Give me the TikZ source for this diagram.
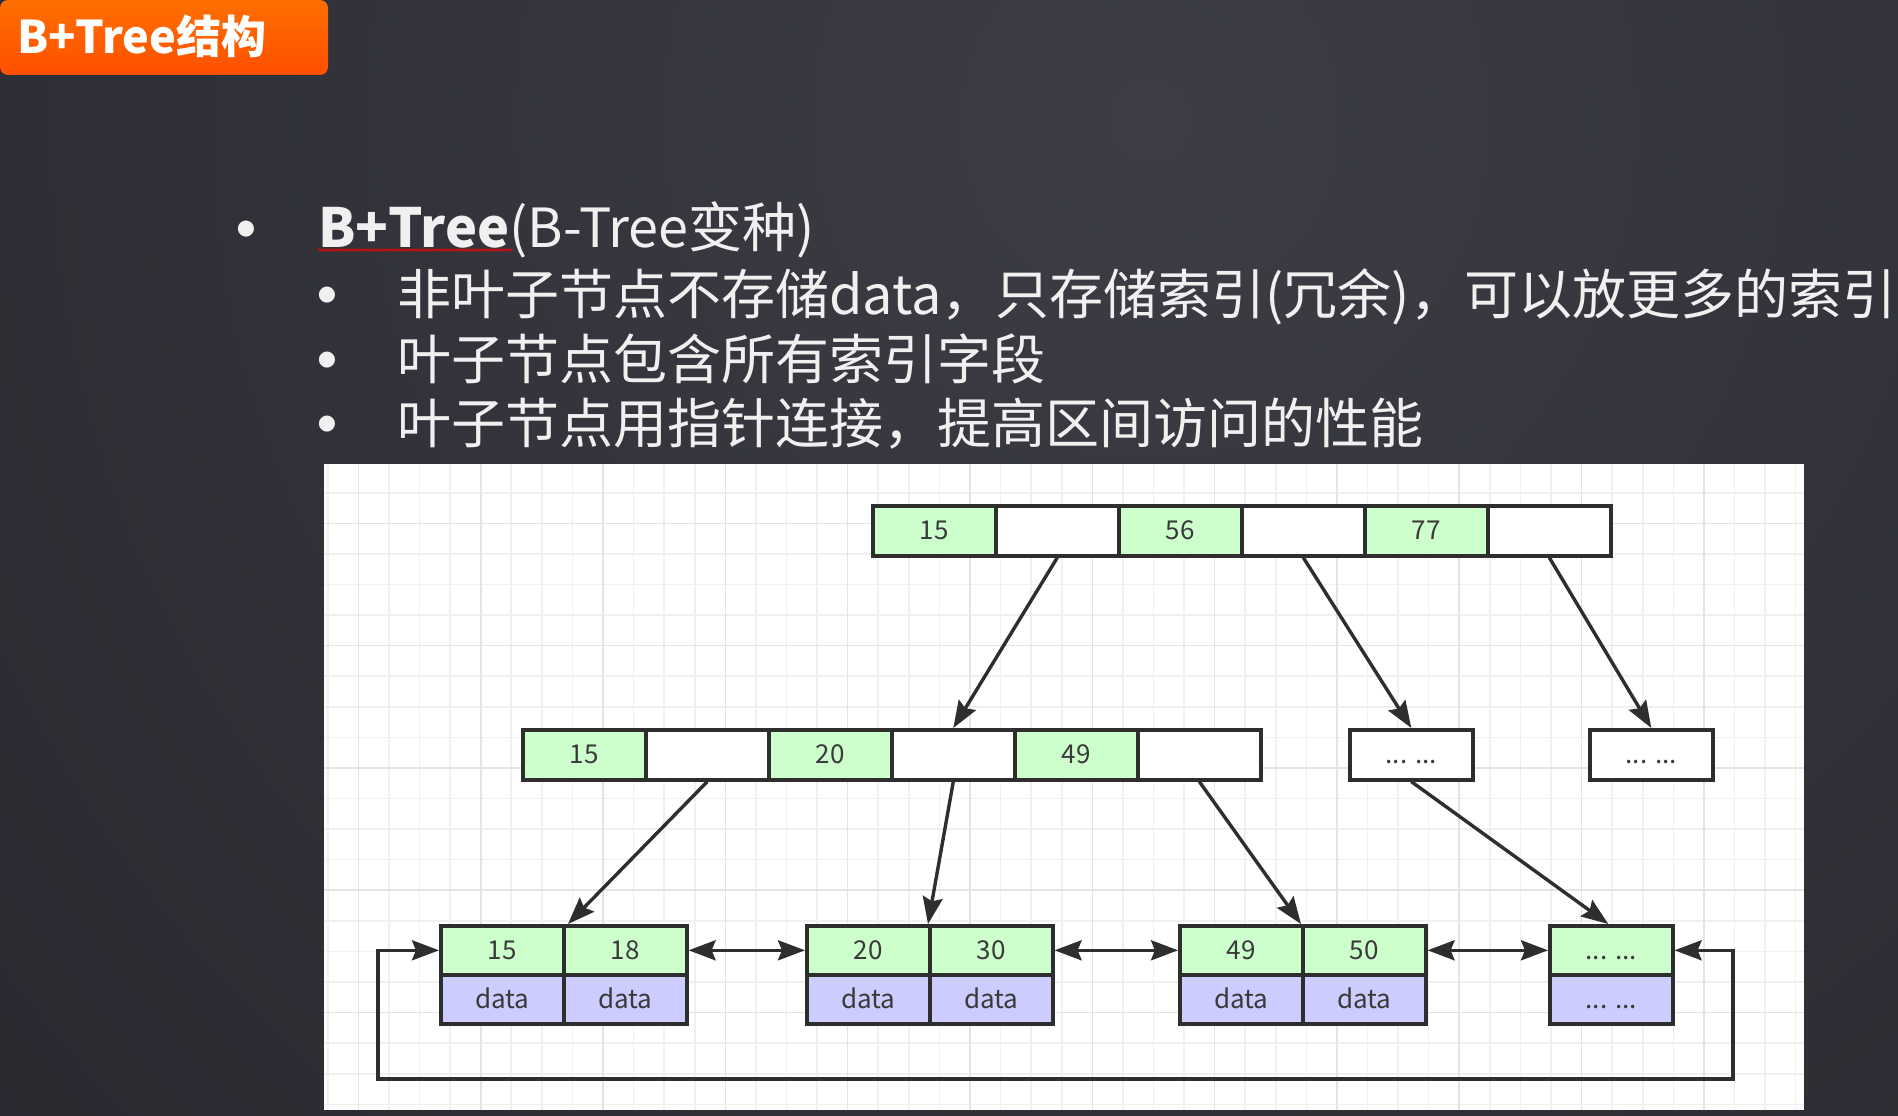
\documentclass[tikz,border=0pt]{standalone}
\usepackage{fontspec}
\setmainfont{Noto Sans CJK SC}
\newfontfamily\dfont{Noto Sans CJK SC}
\newfontfamily\symfont{DejaVu Sans}
\usetikzlibrary{arrows.meta,decorations.pathmorphing}
\definecolor{bgdark}{HTML}{1C1D22}
\definecolor{bglight}{HTML}{3C3D45}
\definecolor{or1}{HTML}{FF6F00}
\definecolor{or2}{HTML}{FF5000}
\definecolor{txtc}{HTML}{F0F0F0}
\definecolor{lg}{HTML}{CCFFCC}
\definecolor{lp}{HTML}{CCCCFF}
\definecolor{ln}{HTML}{2E2E2E}
\definecolor{dtext}{HTML}{3A3A3A}
\definecolor{gmin}{HTML}{F0F0F0}
\definecolor{gmaj}{HTML}{E4E4E4}
\tikzset{
  txt/.style={text=txtc, font=\fontsize{54}{60}\selectfont, inner sep=0pt},
  bul/.style={text=txtc, font=\symfont\fontsize{21}{24}\selectfont, inner sep=0pt, anchor=north},
  cell/.style={draw=ln, line width=3.6pt, minimum width=123pt, minimum height=50pt,
    inner sep=0pt, anchor=north west, text=dtext,
    font=\dfont\fontsize{26}{30}\selectfont, text height=18pt, text depth=0pt},
  kc/.style={cell, fill=lg},
  ec/.style={cell, fill=white},
  dc/.style={cell, fill=lp},
  lc/.style={minimum height=49pt},
  tipA/.tip={Stealth[length=27pt,width=20pt,inset=4pt]},
  arr/.style={draw=ln, line width=3.4pt, -tipA},
  dbl/.style={draw=ln, line width=3.4pt, tipA-tipA}
}
\begin{document}
\begin{tikzpicture}[x=1pt,y=-1pt]
\useasboundingbox (0,0) rectangle (1898,1116);
% background
\begin{scope}
  \clip (0,0) rectangle (1898,1116);
  \fill[bgdark] (0,0) rectangle (1898,1116);
  \shade[inner color=bglight, outer color=bgdark] (1150,120) circle (2600);
\end{scope}
% title bar
\shade[top color=or1, bottom color=or2, rounded corners=8pt] (0,0) rectangle (328,75);
\node[anchor=base west, inner sep=0pt, text=white, font=\bfseries\fontsize{45}{50}\selectfont] (title) at (17,54) {B+Tree结构};
% bullet text
\node[bul] (b1) at (246,220.5) {●};
\node[txt, anchor=base west] (l1) at (318,247) {\textbf{B+Tree}(B-Tree变种)};
\draw[red, line width=0.8pt, decorate, decoration={snake, amplitude=1pt, segment length=3pt}] (318,250) -- (513,250);
\node[bul] (b2) at (327,286.5) {●};
\node[txt, anchor=base west] (l2) at (397,314) {非叶子节点不存储data，只存储索引(冗余)，可以放更多的索引};
\node[bul] (b3) at (327,351.5) {●};
\node[txt, anchor=base west] (l3) at (397,379) {叶子节点包含所有索引字段};
\node[bul] (b4) at (327,415.5) {●};
\node[txt, anchor=base west] (l4) at (397,443) {叶子节点用指针连接，提高区间访问的性能};
% panel with grid
\fill[white] (324,464) rectangle (1804,1110);
\begin{scope}
  \clip (324,464) rectangle (1804,1110);
  \foreach \k in {-5,...,43} {
    \pgfmathsetmacro\xx{480.7+30.58*\k}
    \draw[gmin, line width=1.6pt] (\xx,464) -- (\xx,1110);
  }
  \foreach \k in {-2,...,19} {
    \pgfmathsetmacro\yy{523.3+30.58*\k}
    \draw[gmin, line width=1.6pt] (324,\yy) -- (1804,\yy);
  }
  \foreach \k in {-4,0,...,40} {
    \pgfmathsetmacro\xx{480.7+30.58*\k}
    \draw[gmaj, line width=1.6pt] (\xx,464) -- (\xx,1110);
  }
  \foreach \k in {0,4,...,16} {
    \pgfmathsetmacro\yy{523.3+30.58*\k}
    \draw[gmaj, line width=1.6pt] (324,\yy) -- (1804,\yy);
  }
\end{scope}
% root node
\node[kc] (t1) at (871,504) {15};
\node[ec] (t2) at (994,504) {};
\node[kc] (t3) at (1117,504) {56};
\node[ec] (t4) at (1240,504) {};
\node[kc] (t5) at (1363,504) {77};
\node[ec] (t6) at (1486,504) {};
% middle node
\node[kc] (m1) at (521,728) {15};
\node[ec] (m2) at (644,728) {};
\node[kc] (m3) at (767,728) {20};
\node[ec] (m4) at (890,728) {};
\node[kc] (m5) at (1013,728) {49};
\node[ec] (m6) at (1136,728) {};
\node[ec] (d1) at (1348,728) {... ...};
\node[ec] (d2) at (1588,728) {... ...};
% leaves
\node[kc, lc] (l1a) at (439,924) {15};
\node[kc, lc] (l1b) at (562,924) {18};
\node[dc, lc] (l1c) at (439,973) {data};
\node[dc, lc] (l1d) at (562,973) {data};
\node[kc, lc] (l2a) at (805,924) {20};
\node[kc, lc] (l2b) at (928,924) {30};
\node[dc, lc] (l2c) at (805,973) {data};
\node[dc, lc] (l2d) at (928,973) {data};
\node[kc, lc] (l3a) at (1178,924) {49};
\node[kc, lc] (l3b) at (1301,924) {50};
\node[dc, lc] (l3c) at (1178,973) {data};
\node[dc, lc] (l3d) at (1301,973) {data};
\node[kc, lc] (l4a) at (1548,924) {... ...};
\node[dc, lc] (l4b) at (1548,973) {... ...};
% tree arrows
\draw[arr] (t2.south) -- (m4.north);
\draw[arr] (t4.south) -- (d1.north);
\draw[arr] (t6.south) -- (d2.north);
\draw[arr] (m2.south) -- ([xshift=6pt]l1b.north west);
\draw[arr] (m4.south) -- (l2b.north west);
\draw[arr] (m6.south) -- (l3b.north west);
\draw[arr] (d1.south) -- ([xshift=-3pt]l4a.north);
% leaf links
\draw[dbl] (l1b.east) -- (l2a.west);
\draw[dbl] (l2b.east) -- (l3a.west);
\draw[dbl] (l3b.east) -- (l4a.west);
\coordinate (lpR) at (1733,1079);
\coordinate (lpL) at (378,1079);
\draw[dbl] (l4a.east) -| (lpR) -- (lpL) |- (l1a.west);
\end{tikzpicture}
\end{document}
